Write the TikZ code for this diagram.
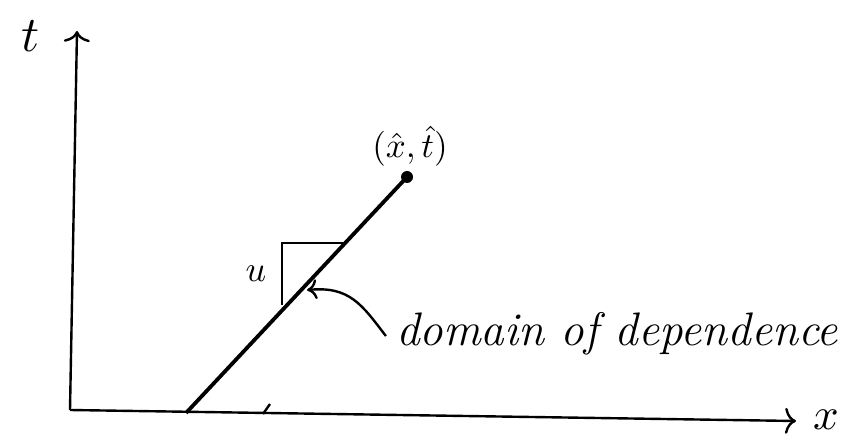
\documentclass[tikz,border=0pt]{standalone}
\usepackage{fontspec}
\usepackage{graphicx}
\usetikzlibrary{arrows.meta}
\begin{document}
\begin{tikzpicture}[x=1pt,y=-1pt,
  axis/.style={line width=2.4pt,-{To[length=11pt,width=26pt]}},
  thick line/.style={line width=3.8pt},
  thin line/.style={line width=2.4pt},
  lbl/.style={inner sep=0pt}]
\useasboundingbox (0,0) rectangle (843,446);
% axes
\coordinate (O) at (70,410);
\coordinate (tend) at (77,31);
\coordinate (xend) at (796,421);
\draw[axis] (O) -- (tend);
\draw[axis] (O) -- (xend);
\node[lbl] (tlab) at (31,36) {\scalebox{5}{$t$}};
\node[lbl] (xlab) at (826,420) {\scalebox{4.5}{$x$}};
% characteristic line
\coordinate (foot) at (186,413);
\node[circle,fill=black,minimum size=12pt,inner sep=0pt] (pt) at (407,177) {};
\draw[thick line] (foot) -- (pt.center);
\node[lbl] (ptlab) at (410,146) {\scalebox{3.5}{$(\hat{x},\hat{t})$}};
% slope triangle
\coordinate (tri1) at (282,305);
\coordinate (tri2) at (282,243);
\coordinate (tri3) at (346,243);
\draw[thin line] (tri1) -- (tri2) -- (tri3);
\node[lbl] (u) at (256,274) {\scalebox{3.6}{$u$}};
% tick
\coordinate (tk1) at (263,414);
\coordinate (tk2) at (270,404);
\draw[thin line] (tk1) -- (tk2);
% label and arrow
\node[lbl,font=\fontsize{47}{52}\selectfont\itshape] (dom) at (617,334) {domain of dependence};
\coordinate (tip) at (307,290);
\draw[line width=2.4pt,-{To[length=10pt,width=20pt]}] (dom.west) ++(-10,2) .. controls (362,305) and (350,286) .. (tip);
\end{tikzpicture}
\end{document}
